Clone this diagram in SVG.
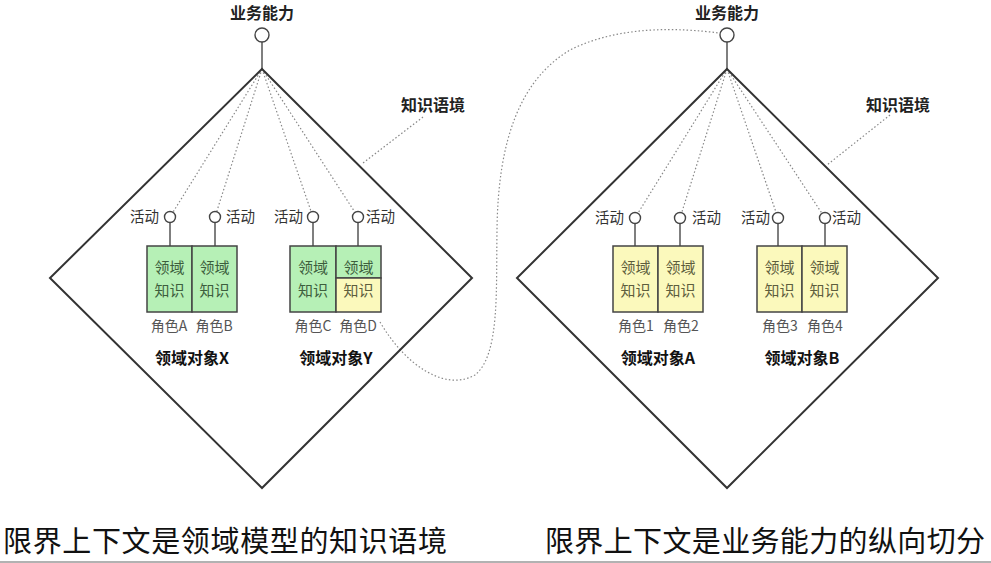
<svg xmlns="http://www.w3.org/2000/svg" width="991" height="563" viewBox="0 0 991 563">
<style>
text{font-family:"Noto Sans CJK SC","Liberation Sans",sans-serif}
.dia{fill:none;stroke:#333;stroke-width:2}
.dot{fill:none;stroke:#888;stroke-width:1.2;stroke-dasharray:1.5 2.2}
.stem{stroke:#555;stroke-width:1.5}
.cap{fill:#fff;stroke:#444;stroke-width:1.4}
.lbl{font-size:16px;font-weight:bold;fill:#222;text-anchor:middle}
.act{font-size:14.5px;fill:#333}
.role{font-size:14px;fill:#555;text-anchor:middle}
.obj{font-size:16px;font-weight:bold;fill:#111;text-anchor:middle}
.g{fill:#b6f0b6;stroke:#444;stroke-width:1.5}
.y{fill:#fbf9bc;stroke:#444;stroke-width:1.5}
.gt{font-size:15px;fill:#3d5e3d;text-anchor:middle}
.yt{font-size:15px;fill:#5e5e3d;text-anchor:middle}
.big{font-size:29px;fill:#111}
</style>
<g id="connectors">
<path class="dot" d="M262 69 L170 217 M262 69 L215 217 M262 69 L313 217 M262 69 L358 217"/>
<path class="dot" d="M727 69 L635 218 M727 69 L680 218 M727 69 L778 218 M727 69 L825 218"/>
<path class="dot" d="M423 117 L363 163"/>
<path class="dot" d="M890 115 L827 165"/>
<path class="dot" d="M380 322 C405 365 445 392 475 375 C500 355 496 290 497 230 C498 140 520 80 570 50 C620 25 680 28 719 33"/>
<path class="stem" d="M262 42 L262 69 M727 42 L727 69"/>
<path class="stem" d="M170 222.5 L170 246 M215 222.5 L215 246 M313 222.5 L313 246 M358 222.5 L358 246"/>
<path class="stem" d="M635 223.5 L635 246 M680 223.5 L680 246 M778 223.5 L778 246 M825 223.5 L825 246"/>
</g>
<g id="context-left">
<polygon class="dia" points="262,69 472,278 262,488 50,278"/>
<circle class="cap" cx="262" cy="35" r="7"/>
<text class="lbl" x="262" y="19">业务能力</text>
<text class="lbl" x="433" y="111">知识语境</text>
</g>
<g id="context-right">
<polygon class="dia" points="727,69 938,278 727,488 517,278"/>
<circle class="cap" cx="727" cy="35" r="7"/>
<text class="lbl" x="727" y="19">业务能力</text>
<text class="lbl" x="898" y="111">知识语境</text>
</g>
<g id="object-x">
<circle class="cap" cx="170" cy="217" r="5.5"/>
<circle class="cap" cx="215" cy="217" r="5.5"/>
<text class="act" x="130" y="222">活动</text>
<text class="act" x="226" y="222">活动</text>
<rect class="g" x="147" y="246" width="45" height="66"/>
<rect class="g" x="192" y="246" width="45" height="66"/>
<text class="gt" x="169.5" y="273">领域</text><text class="gt" x="169.5" y="296">知识</text>
<text class="gt" x="214.5" y="273">领域</text><text class="gt" x="214.5" y="296">知识</text>
<text class="role" x="169" y="331">角色A</text>
<text class="role" x="214" y="331">角色B</text>
<text class="obj" x="192" y="364">领域对象X</text>
</g>
<g id="object-y">
<circle class="cap" cx="313" cy="217" r="5.5"/>
<circle class="cap" cx="358" cy="217" r="5.5"/>
<text class="act" x="274" y="222">活动</text>
<text class="act" x="366" y="222">活动</text>
<rect class="g" x="290" y="246" width="46" height="66"/>
<rect class="g" x="336" y="246" width="45" height="32"/>
<rect class="y" x="336" y="278" width="45" height="34"/>
<text class="gt" x="313" y="273">领域</text><text class="gt" x="313" y="296">知识</text>
<text class="gt" x="358.5" y="273">领域</text><text class="yt" x="358.5" y="296">知识</text>
<text class="role" x="313" y="331">角色C</text>
<text class="role" x="358" y="331">角色D</text>
<text class="obj" x="336" y="364">领域对象Y</text>
</g>
<g id="object-a">
<circle class="cap" cx="635" cy="218" r="5.5"/>
<circle class="cap" cx="680" cy="218" r="5.5"/>
<text class="act" x="595" y="223">活动</text>
<text class="act" x="692" y="223">活动</text>
<rect class="y" x="613" y="246" width="45" height="66"/>
<rect class="y" x="658" y="246" width="45" height="66"/>
<text class="yt" x="635.5" y="273">领域</text><text class="yt" x="635.5" y="296">知识</text>
<text class="yt" x="680.5" y="273">领域</text><text class="yt" x="680.5" y="296">知识</text>
<text class="role" x="636" y="331">角色1</text>
<text class="role" x="681" y="331">角色2</text>
<text class="obj" x="658" y="364">领域对象A</text>
</g>
<g id="object-b">
<circle class="cap" cx="778" cy="218" r="5.5"/>
<circle class="cap" cx="825" cy="218" r="5.5"/>
<text class="act" x="741" y="223">活动</text>
<text class="act" x="832" y="223">活动</text>
<rect class="y" x="757" y="246" width="45" height="66"/>
<rect class="y" x="802" y="246" width="45" height="66"/>
<text class="yt" x="779.5" y="273">领域</text><text class="yt" x="779.5" y="296">知识</text>
<text class="yt" x="824.5" y="273">领域</text><text class="yt" x="824.5" y="296">知识</text>
<text class="role" x="780" y="331">角色3</text>
<text class="role" x="825" y="331">角色4</text>
<text class="obj" x="802" y="364">领域对象B</text>
</g>
<g id="captions">
<text class="big" x="3" y="552" textLength="444">限界上下文是领域模型的知识语境</text>
<text class="big" x="545" y="552" textLength="440">限界上下文是业务能力的纵向切分</text>
<line x1="0" y1="562" x2="991" y2="562" stroke="#999" stroke-width="1.5"/>
</g>
</svg>
